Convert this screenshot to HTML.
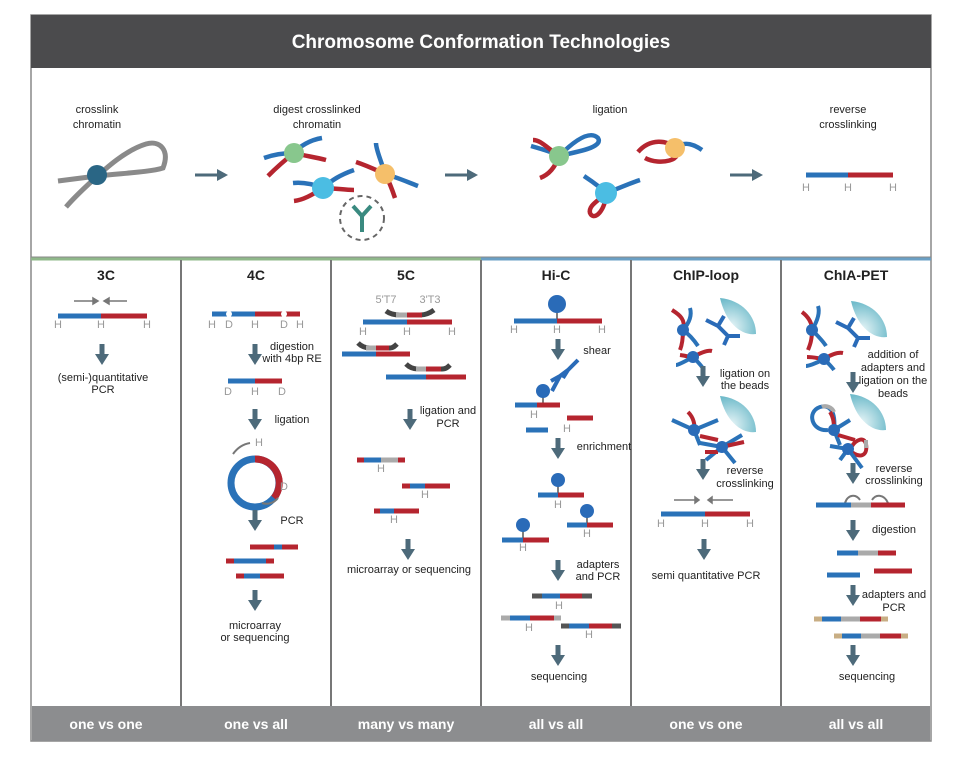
<!DOCTYPE html>
<html><head><meta charset="utf-8"><style>
body{margin:0;background:#fff}
svg{display:block}
text{font-family:"Liberation Sans",Arial,sans-serif}
.t{font-size:11px;fill:#222;text-anchor:middle}
.h{font-size:11px;fill:#999;text-anchor:middle}
.ti{font-size:14px;font-weight:bold;fill:#222;text-anchor:middle}
.bt{font-size:14px;font-weight:bold;fill:#fff;text-anchor:middle}
.b{stroke:#2a72b8;stroke-width:5}
.r{stroke:#b5252f;stroke-width:5}
.g{stroke:#aaa;stroke-width:5}
.k{stroke:#555;stroke-width:5}
.tan{stroke:#c8ae84;stroke-width:5}
</style></head><body>
<svg width="960" height="765" viewBox="0 0 960 765" xmlns="http://www.w3.org/2000/svg">
<defs>
<g id="da"><rect x="-2.5" y="0" width="5" height="11" fill="#4d6a7a"/><path d="M-7,10 L7,10 L0,21 Z" fill="#4d6a7a"/></g>
<g id="ra"><rect x="0" y="-1.5" width="24" height="3" fill="#4d6a7a"/><path d="M22,-6 L33,0 L22,6 Z" fill="#4d6a7a"/></g>
<radialGradient id="bead" cx="0.3" cy="0.8" r="0.9"><stop offset="0" stop-color="#e9f6f8"/><stop offset="1" stop-color="#5fb3c4"/></radialGradient>
<g id="bd"><path d="M-2,-4 C20,-2 34,14 34,32 C20,34 4,22 -2,-4 Z" fill="url(#bead)"/></g>
</defs>
<rect x="31" y="15" width="900" height="726" fill="#fff" stroke="#888" stroke-width="1.5"/>
<rect x="31" y="15" width="900" height="53" fill="#4b4b4d"/>
<text x="481" y="48" font-size="19" font-weight="bold" fill="#fff" text-anchor="middle">Chromosome Conformation Technologies</text>
<line x1="31" y1="259" x2="481" y2="259" stroke="#8fb88a" stroke-width="3"/>
<line x1="481" y1="259" x2="931" y2="259" stroke="#6a9fc4" stroke-width="3"/>
<line x1="31" y1="257" x2="931" y2="257" stroke="#888" stroke-width="1"/>
<g stroke="#777" stroke-width="2"><line x1="181" y1="260" x2="181" y2="706"/><line x1="331" y1="260" x2="331" y2="706"/><line x1="481" y1="260" x2="481" y2="706"/><line x1="631" y1="260" x2="631" y2="706"/><line x1="781" y1="260" x2="781" y2="706"/></g>
<rect x="32" y="706" width="898" height="35" fill="#8c8d8f"/>
<text class="bt" x="106" y="729">one vs one</text><text class="bt" x="256" y="729">one vs all</text><text class="bt" x="406" y="729">many vs many</text><text class="bt" x="556" y="729">all vs all</text><text class="bt" x="706" y="729">one vs one</text><text class="bt" x="856" y="729">all vs all</text>

<!-- top panel -->
<text class="t" x="97" y="113">crosslink</text><text class="t" x="97" y="128">chromatin</text>
<path d="M58,181 L97,176 C125,173 150,172 163,168 C170,150 160,140 146,144 C126,150 106,168 92,181 C80,192 72,200 66,207" fill="none" stroke="#8a8a8a" stroke-width="5"/>
<circle cx="97" cy="175" r="10" fill="#2a6685"/>
<use href="#ra" x="195" y="175"/><use href="#ra" x="445" y="175"/><use href="#ra" x="730" y="175"/>
<text class="t" x="317" y="113">digest crosslinked</text><text class="t" x="317" y="128">chromatin</text>
<g fill="none" stroke-width="4.5">
<path d="M264,158 C275,154 285,153 294,153" stroke="#2a72b8"/><path d="M294,153 C300,146 310,140 322,138" stroke="#2a72b8"/><path d="M294,153 C305,156 315,157 326,160" stroke="#b5252f"/><path d="M294,153 C285,160 276,168 268,176" stroke="#b5252f"/>
<path d="M293,183 C303,182 313,184 323,188" stroke="#2a72b8"/><path d="M323,188 C332,180 340,175 354,170" stroke="#2a72b8"/><path d="M323,188 C333,188 345,190 354,190" stroke="#b5252f"/><path d="M323,188 C312,195 303,200 294,201" stroke="#b5252f"/>
<path d="M356,162 C368,166 376,170 385,174" stroke="#b5252f"/><path d="M385,174 C381,160 376,150 376,143" stroke="#2a72b8"/><path d="M385,174 C396,177 405,181 418,186" stroke="#2a72b8"/><path d="M385,174 C390,183 393,192 395,198" stroke="#b5252f"/>
</g>
<circle cx="294" cy="153" r="10" fill="#88c78d"/><circle cx="323" cy="188" r="11" fill="#4bbde3"/><circle cx="385" cy="174" r="10" fill="#f5bf6a"/>
<circle cx="362" cy="218" r="22" fill="none" stroke="#666" stroke-width="2" stroke-dasharray="5,4"/>
<path d="M362,232 L362,216 M362,216 L353,206 M362,216 L371,206" stroke="#3a8a80" stroke-width="4" fill="none"/>
<text class="t" x="610" y="113">ligation</text>
<g fill="none" stroke-width="4.5">
<path d="M531,146 C545,150 552,152 559,156 C575,140 590,130 598,138 C604,148 575,152 559,156" stroke="#2a72b8"/>
<path d="M559,156 C555,168 548,175 540,178" stroke="#b5252f"/><path d="M559,156 C545,146 540,140 533,140" stroke="#b5252f"/>
<path d="M638,152 C650,138 668,140 675,148 C685,160 660,166 645,158" stroke="#b5252f"/><path d="M675,148 C685,140 695,145 702,150" stroke="#2a72b8"/>
<path d="M606,193 C600,200 588,205 590,213 C594,222 606,210 606,193" stroke="#b5252f"/><path d="M606,193 C620,188 630,183 640,180" stroke="#2a72b8"/><path d="M606,193 C598,185 590,180 584,176" stroke="#2a72b8"/>
</g>
<circle cx="559" cy="156" r="10" fill="#88c78d"/><circle cx="675" cy="148" r="10" fill="#f5bf6a"/><circle cx="606" cy="193" r="11" fill="#4bbde3"/>
<text class="t" x="848" y="113">reverse</text><text class="t" x="848" y="128">crosslinking</text>
<line class="b" x1="806" y1="175" x2="848" y2="175"/><line class="r" x1="848" y1="175" x2="893" y2="175"/>
<text class="h" x="806" y="191">H</text><text class="h" x="848" y="191">H</text><text class="h" x="893" y="191">H</text>

<!-- titles -->
<text class="ti" x="106" y="280">3C</text><text class="ti" x="256" y="280">4C</text><text class="ti" x="406" y="280">5C</text><text class="ti" x="556" y="280">Hi-C</text><text class="ti" x="706" y="280">ChIP-loop</text><text class="ti" x="856" y="280">ChIA-PET</text>

<!-- 3C -->
<g stroke="#777" stroke-width="1.5" fill="#777"><line x1="74" y1="301" x2="94" y2="301"/><path d="M93,298 L98,301 L93,304Z"/><line x1="108" y1="301" x2="127" y2="301"/><path d="M109,298 L104,301 L109,304Z"/></g>
<line class="b" x1="58" y1="316" x2="101" y2="316"/><line class="r" x1="101" y1="316" x2="147" y2="316"/>
<text class="h" x="58" y="328">H</text><text class="h" x="101" y="328">H</text><text class="h" x="147" y="328">H</text>
<use href="#da" x="102" y="344"/>
<text class="t" x="103" y="381">(semi-)quantitative</text><text class="t" x="103" y="393">PCR</text>

<!-- 4C -->
<line class="b" x1="212" y1="314" x2="255" y2="314"/><line class="r" x1="255" y1="314" x2="300" y2="314"/>
<circle cx="229" cy="314" r="3" fill="#fff"/><circle cx="284" cy="314" r="3" fill="#fff"/>
<text class="h" x="212" y="328">H</text><text class="h" x="229" y="328">D</text><text class="h" x="255" y="328">H</text><text class="h" x="284" y="328">D</text><text class="h" x="300" y="328">H</text>
<use href="#da" x="255" y="344"/>
<text class="t" x="292" y="350">digestion</text><text class="t" x="292" y="362">with 4bp RE</text>
<line class="b" x1="228" y1="381" x2="255" y2="381"/><line class="r" x1="255" y1="381" x2="282" y2="381"/>
<text class="h" x="228" y="395">D</text><text class="h" x="255" y="395">H</text><text class="h" x="282" y="395">D</text>
<use href="#da" x="255" y="409"/>
<text class="t" x="292" y="423">ligation</text>
<circle cx="255" cy="483" r="24" fill="none" stroke="#2a72b8" stroke-width="7"/>
<path d="M255,459 A24,24 0 0 1 274,498" fill="none" stroke="#b5252f" stroke-width="7"/>
<text class="h" x="259" y="446">H</text><text class="h" x="284" y="490">D</text>
<path d="M233,454 C238,447 244,444 250,443" fill="none" stroke="#777" stroke-width="2"/><path d="M262,503 C268,505 274,503 278,498" fill="none" stroke="#777" stroke-width="2"/>
<use href="#da" x="255" y="510"/>
<text class="t" x="292" y="524">PCR</text>
<line class="r" x1="250" y1="547" x2="274" y2="547"/><line class="b" x1="274" y1="547" x2="282" y2="547"/><line class="r" x1="282" y1="547" x2="298" y2="547"/>
<line class="r" x1="226" y1="561" x2="234" y2="561"/><line class="b" x1="234" y1="561" x2="266" y2="561"/><line class="r" x1="266" y1="561" x2="274" y2="561"/>
<line class="r" x1="236" y1="576" x2="244" y2="576"/><line class="b" x1="244" y1="576" x2="260" y2="576"/><line class="r" x1="260" y1="576" x2="284" y2="576"/>
<use href="#da" x="255" y="590"/>
<text class="t" x="255" y="629">microarray</text><text class="t" x="255" y="641">or sequencing</text>

<!-- 5C -->
<text class="h" x="386" y="303">5'T7</text><text class="h" x="430" y="303">3'T3</text>
<path d="M386,311 C390,314 395,315 400,315 L420,315 C425,315 430,313 434,310" fill="none" stroke="#444" stroke-width="5"/>
<line class="g" x1="396" y1="315" x2="407" y2="315"/><line class="r" x1="407" y1="315" x2="422" y2="315"/>
<line class="b" x1="363" y1="322" x2="407" y2="322"/><line class="r" x1="407" y1="322" x2="452" y2="322"/>
<text class="h" x="363" y="335">H</text><text class="h" x="407" y="335">H</text><text class="h" x="452" y="335">H</text>
<path d="M358,343 C362,347 366,348 370,348 L390,348 C393,348 395,346 397,344" fill="none" stroke="#444" stroke-width="5"/>
<line class="g" x1="366" y1="348" x2="376" y2="348"/><line class="r" x1="376" y1="348" x2="389" y2="348"/>
<line class="b" x1="342" y1="354" x2="376" y2="354"/><line class="r" x1="376" y1="354" x2="410" y2="354"/>
<path d="M406,364 C410,368 414,369 418,369 L442,369 C446,369 448,367 450,365" fill="none" stroke="#444" stroke-width="5"/>
<line class="g" x1="416" y1="369" x2="426" y2="369"/><line class="r" x1="426" y1="369" x2="441" y2="369"/>
<line class="b" x1="386" y1="377" x2="426" y2="377"/><line class="r" x1="426" y1="377" x2="466" y2="377"/>
<use href="#da" x="410" y="409"/>
<text class="t" x="448" y="414">ligation and</text><text class="t" x="448" y="427">PCR</text>
<line class="r" x1="357" y1="460" x2="364" y2="460"/><line class="b" x1="364" y1="460" x2="381" y2="460"/><line class="g" x1="381" y1="460" x2="398" y2="460"/><line class="r" x1="398" y1="460" x2="405" y2="460"/>
<text class="h" x="381" y="472">H</text>
<line class="r" x1="402" y1="486" x2="410" y2="486"/><line class="b" x1="410" y1="486" x2="425" y2="486"/><line class="r" x1="425" y1="486" x2="450" y2="486"/>
<text class="h" x="425" y="498">H</text>
<line class="r" x1="374" y1="511" x2="380" y2="511"/><line class="b" x1="380" y1="511" x2="394" y2="511"/><line class="r" x1="394" y1="511" x2="419" y2="511"/>
<text class="h" x="394" y="523">H</text>
<use href="#da" x="408" y="539"/>
<text class="t" x="409" y="573">microarray or sequencing</text>

<!-- Hi-C -->
<line x1="557" y1="308" x2="557" y2="321" stroke="#555" stroke-width="1.5"/><circle cx="557" cy="304" r="9" fill="#2a6bb8"/>
<line class="b" x1="514" y1="321" x2="557" y2="321"/><line class="r" x1="557" y1="321" x2="602" y2="321"/>
<text class="h" x="514" y="333">H</text><text class="h" x="557" y="333">H</text><text class="h" x="602" y="333">H</text>
<use href="#da" x="558" y="339"/>
<text class="t" x="597" y="354">shear</text>
<path d="M551,381 L560,376 L568,370 M560,376 L552,391 M568,370 L578,360 M568,370 L563,378" fill="none" stroke="#2a6bb8" stroke-width="4"/>
<line x1="543" y1="392" x2="543" y2="405" stroke="#555" stroke-width="1.5"/><circle cx="543" cy="391" r="7" fill="#2a6bb8"/>
<line class="b" x1="515" y1="405" x2="537" y2="405"/><line class="r" x1="537" y1="405" x2="560" y2="405"/>
<text class="h" x="534" y="418">H</text>
<line class="b" x1="526" y1="430" x2="548" y2="430"/><line class="r" x1="567" y1="418" x2="593" y2="418"/>
<text class="h" x="567" y="432">H</text>
<use href="#da" x="558" y="438"/>
<text class="t" x="604" y="450">enrichment</text>
<line x1="558" y1="485" x2="558" y2="495" stroke="#555" stroke-width="1.5"/><circle cx="558" cy="480" r="7" fill="#2a6bb8"/>
<line class="b" x1="538" y1="495" x2="558" y2="495"/><line class="r" x1="558" y1="495" x2="584" y2="495"/>
<text class="h" x="558" y="508">H</text>
<line x1="587" y1="515" x2="587" y2="525" stroke="#555" stroke-width="1.5"/><circle cx="587" cy="511" r="7" fill="#2a6bb8"/>
<line class="b" x1="567" y1="525" x2="587" y2="525"/><line class="r" x1="587" y1="525" x2="613" y2="525"/>
<text class="h" x="587" y="537">H</text>
<line x1="523" y1="530" x2="523" y2="540" stroke="#555" stroke-width="1.5"/><circle cx="523" cy="525" r="7" fill="#2a6bb8"/>
<line class="b" x1="502" y1="540" x2="523" y2="540"/><line class="r" x1="523" y1="540" x2="549" y2="540"/>
<text class="h" x="523" y="551">H</text>
<use href="#da" x="558" y="560"/>
<text class="t" x="598" y="568">adapters</text><text class="t" x="598" y="580">and PCR</text>
<line class="k" x1="532" y1="596" x2="542" y2="596"/><line class="b" x1="542" y1="596" x2="560" y2="596"/><line class="r" x1="560" y1="596" x2="582" y2="596"/><line class="k" x1="582" y1="596" x2="592" y2="596"/>
<text class="h" x="559" y="609">H</text>
<line class="g" x1="501" y1="618" x2="510" y2="618"/><line class="b" x1="510" y1="618" x2="530" y2="618"/><line class="r" x1="530" y1="618" x2="554" y2="618"/><line class="g" x1="554" y1="618" x2="561" y2="618"/>
<text class="h" x="529" y="631">H</text>
<line class="k" x1="561" y1="626" x2="569" y2="626"/><line class="b" x1="569" y1="626" x2="589" y2="626"/><line class="r" x1="589" y1="626" x2="612" y2="626"/><line class="k" x1="612" y1="626" x2="621" y2="626"/>
<text class="h" x="589" y="638">H</text>
<use href="#da" x="558" y="645"/>
<text class="t" x="559" y="680">sequencing</text>

<!-- ChIP-loop -->
<use href="#bd" x="722" y="302"/>
<g fill="none" stroke-width="4">
<path d="M672,310 C680,315 686,320 683,330" stroke="#b5252f"/><path d="M683,330 C683,340 682,345 680,350" stroke="#b5252f"/><path d="M683,330 C690,322 692,315 690,308" stroke="#2a72b8"/><path d="M683,330 C690,335 694,340 698,346" stroke="#2a72b8"/>
<path d="M680,355 C688,356 692,358 693,357" stroke="#b5252f"/><path d="M693,357 C702,352 708,350 712,351" stroke="#b5252f"/><path d="M693,357 C684,362 678,365 676,365" stroke="#2a72b8"/><path d="M693,357 C698,362 702,366 704,370" stroke="#2a72b8"/>
<path d="M706,320 L718,326 M718,326 L724,316 M718,326 L728,336 M728,336 L724,345 M728,336 L740,336" stroke="#2a6bb8"/>
</g>
<circle cx="683" cy="330" r="6" fill="#2a6bb8"/><circle cx="693" cy="357" r="6" fill="#2a6bb8"/>
<use href="#da" x="703" y="366"/>
<text class="t" x="745" y="377">ligation on</text><text class="t" x="745" y="389">the beads</text>
<use href="#bd" x="722" y="400"/>
<g fill="none" stroke-width="4">
<path d="M688,412 C694,418 695,425 694,430" stroke="#b5252f"/><path d="M694,430 L672,420" stroke="#2a72b8"/><path d="M694,430 L718,420" stroke="#2a72b8"/><path d="M694,430 L700,445" stroke="#2a72b8"/><path d="M700,436 L718,440" stroke="#b5252f"/>
<path d="M722,447 L700,443" stroke="#2a72b8"/><path d="M722,447 L706,460" stroke="#2a72b8"/><path d="M722,447 L742,435" stroke="#2a72b8"/><path d="M722,447 L735,463" stroke="#2a72b8"/><path d="M726,446 L744,442" stroke="#b5252f"/><path d="M718,452 L705,452" stroke="#b5252f"/>
</g>
<circle cx="694" cy="430" r="6" fill="#2a6bb8"/><circle cx="722" cy="447" r="6" fill="#2a6bb8"/>
<use href="#da" x="703" y="459"/>
<text class="t" x="745" y="474">reverse</text><text class="t" x="745" y="487">crosslinking</text>
<g stroke="#777" stroke-width="1.5" fill="#777"><line x1="674" y1="500" x2="695" y2="500"/><path d="M695,497 L699,500 L695,503Z"/><line x1="712" y1="500" x2="733" y2="500"/><path d="M712,497 L708,500 L712,503Z"/></g>
<line class="b" x1="661" y1="514" x2="705" y2="514"/><line class="r" x1="705" y1="514" x2="750" y2="514"/>
<text class="h" x="661" y="527">H</text><text class="h" x="705" y="527">H</text><text class="h" x="750" y="527">H</text>
<use href="#da" x="704" y="539"/>
<text class="t" x="706" y="579">semi quantitative PCR</text>

<!-- ChIA-PET -->
<use href="#bd" x="853" y="305"/>
<g fill="none" stroke-width="4">
<path d="M802,312 C810,318 812,325 812,330" stroke="#b5252f"/><path d="M812,330 C812,340 810,345 808,350" stroke="#b5252f"/><path d="M812,330 C818,320 820,312 818,306" stroke="#2a72b8"/><path d="M812,330 C818,336 823,341 826,346" stroke="#2a72b8"/>
<path d="M807,357 C815,357 820,359 824,359" stroke="#b5252f"/><path d="M824,359 C832,354 838,352 843,353" stroke="#b5252f"/><path d="M824,359 C815,364 808,366 806,366" stroke="#2a72b8"/><path d="M824,359 C828,363 832,367 834,370" stroke="#2a72b8"/>
<path d="M836,322 L848,328 M848,328 L854,318 M848,328 L858,338 M858,338 L854,347 M858,338 L870,338" stroke="#2a6bb8"/>
</g>
<circle cx="812" cy="330" r="6" fill="#2a6bb8"/><circle cx="824" cy="359" r="6" fill="#2a6bb8"/>
<use href="#da" x="853" y="372"/>
<text class="t" x="893" y="358">addition of</text><text class="t" x="893" y="371">adapters and</text><text class="t" x="893" y="384">ligation on the</text><text class="t" x="893" y="397">beads</text>
<use href="#bd" x="852" y="398"/>
<g fill="none" stroke-width="4">
<path d="M828,430 C812,432 806,412 820,407 C830,404 836,412 834,430" stroke="#2a72b8"/><path d="M822,407 C826,405 832,407 834,412" stroke="#aaa"/><path d="M830,412 C834,418 834,425 834,430" stroke="#b5252f"/>
<path d="M834,430 L840,445" stroke="#2a72b8"/><path d="M838,435 L855,440" stroke="#b5252f"/><path d="M834,430 L850,420" stroke="#2a72b8"/>
<path d="M848,449 L830,446" stroke="#2a72b8"/><path d="M848,449 C860,460 868,456 866,444 C864,436 856,440 852,446" stroke="#b5252f"/><path d="M866,440 L866,448" stroke="#aaa"/><path d="M848,449 L840,460" stroke="#2a72b8"/><path d="M848,449 L862,468" stroke="#2a72b8"/>
</g>
<circle cx="834" cy="430" r="6" fill="#2a6bb8"/><circle cx="848" cy="449" r="6" fill="#2a6bb8"/>
<use href="#da" x="853" y="463"/>
<text class="t" x="894" y="472">reverse</text><text class="t" x="894" y="484">crosslinking</text>
<path d="M845,503 C848,494 856,494 860,500 M872,500 C876,494 884,494 888,503" fill="none" stroke="#777" stroke-width="2"/>
<line class="b" x1="816" y1="505" x2="851" y2="505"/><line class="g" x1="851" y1="505" x2="871" y2="505"/><line class="r" x1="871" y1="505" x2="905" y2="505"/>
<use href="#da" x="853" y="520"/>
<text class="t" x="894" y="533">digestion</text>
<line class="b" x1="837" y1="553" x2="858" y2="553"/><line class="g" x1="858" y1="553" x2="878" y2="553"/><line class="r" x1="878" y1="553" x2="896" y2="553"/>
<line class="b" x1="827" y1="575" x2="860" y2="575"/><line class="r" x1="874" y1="571" x2="912" y2="571"/>
<use href="#da" x="853" y="585"/>
<text class="t" x="894" y="598">adapters and</text><text class="t" x="894" y="611">PCR</text>
<line class="tan" x1="814" y1="619" x2="822" y2="619"/><line class="b" x1="822" y1="619" x2="841" y2="619"/><line class="g" x1="841" y1="619" x2="860" y2="619"/><line class="r" x1="860" y1="619" x2="881" y2="619"/><line class="tan" x1="881" y1="619" x2="888" y2="619"/>
<line class="tan" x1="834" y1="636" x2="842" y2="636"/><line class="b" x1="842" y1="636" x2="861" y2="636"/><line class="g" x1="861" y1="636" x2="880" y2="636"/><line class="r" x1="880" y1="636" x2="901" y2="636"/><line class="tan" x1="901" y1="636" x2="908" y2="636"/>
<use href="#da" x="853" y="645"/>
<text class="t" x="867" y="680">sequencing</text>
</svg>
</body></html>
